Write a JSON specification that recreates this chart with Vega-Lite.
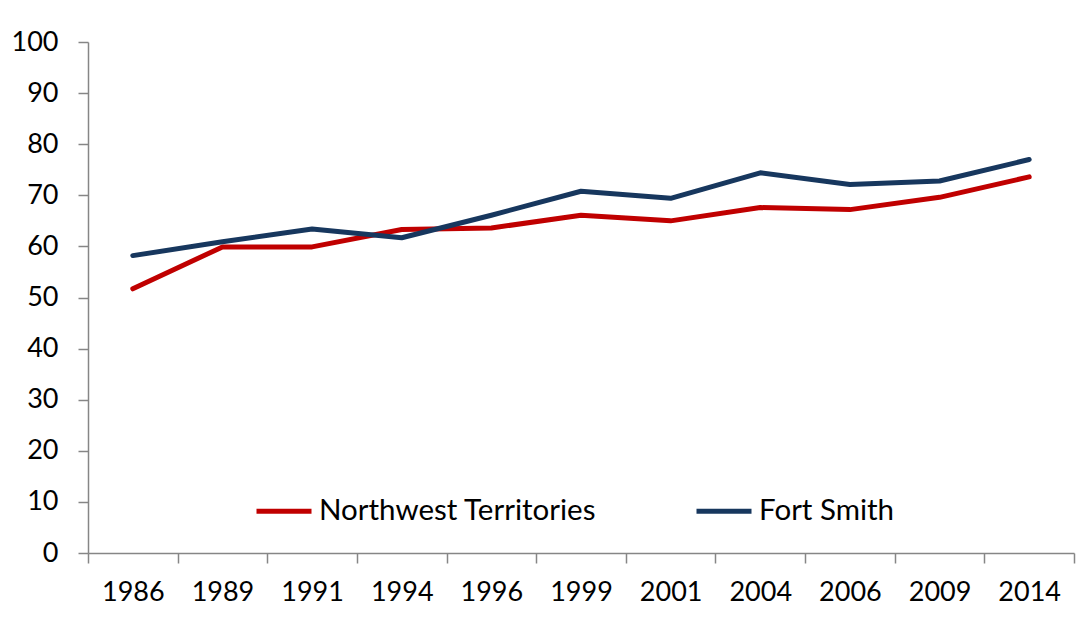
{
  "$schema": "https://vega.github.io/schema/vega-lite/v6.json",
  "width": 986,
  "height": 511,
  "autosize": "none",
  "padding": {"left": 88, "top": 42, "right": 14, "bottom": 75},
  "background": "white",
  "config": {
    "font": "Lato",
    "view": {"stroke": null},
    "axis": {"grid": false, "domainColor": "#868686", "tickColor": "#868686", "domainWidth": 1.5, "tickWidth": 1.5, "tickSize": 10, "labelColor": "#000000", "labelFontSize": 27, "labelFont": "Lato", "titleFontSize": 0}
  },
  "data": {
    "values": [
      {"year": "1986", "series": "Northwest Territories", "value": 51.7},
      {"year": "1989", "series": "Northwest Territories", "value": 59.9},
      {"year": "1991", "series": "Northwest Territories", "value": 59.9},
      {"year": "1994", "series": "Northwest Territories", "value": 63.3},
      {"year": "1996", "series": "Northwest Territories", "value": 63.6},
      {"year": "1999", "series": "Northwest Territories", "value": 66.1},
      {"year": "2001", "series": "Northwest Territories", "value": 65.0},
      {"year": "2004", "series": "Northwest Territories", "value": 67.6},
      {"year": "2006", "series": "Northwest Territories", "value": 67.2},
      {"year": "2009", "series": "Northwest Territories", "value": 69.6},
      {"year": "2014", "series": "Northwest Territories", "value": 73.6},
      {"year": "1986", "series": "Fort Smith", "value": 58.2},
      {"year": "1989", "series": "Fort Smith", "value": 60.9},
      {"year": "1991", "series": "Fort Smith", "value": 63.4},
      {"year": "1994", "series": "Fort Smith", "value": 61.7},
      {"year": "1996", "series": "Fort Smith", "value": 66.1},
      {"year": "1999", "series": "Fort Smith", "value": 70.8},
      {"year": "2001", "series": "Fort Smith", "value": 69.4},
      {"year": "2004", "series": "Fort Smith", "value": 74.4},
      {"year": "2006", "series": "Fort Smith", "value": 72.1},
      {"year": "2009", "series": "Fort Smith", "value": 72.8},
      {"year": "2014", "series": "Fort Smith", "value": 77.0}
    ]
  },
  "mark": {"type": "line", "strokeWidth": 5, "strokeCap": "round", "strokeJoin": "round"},
  "encoding": {
    "x": {
      "field": "year", "type": "ordinal", "bandPosition": 0.5,
      "scale": {"type": "band", "paddingInner": 0, "paddingOuter": 0},
      "axis": {"title": null, "labelAngle": 0, "tickBand": "extent", "labelPadding": 16}
    },
    "y": {
      "field": "value", "type": "quantitative",
      "scale": {"domain": [0, 100], "nice": false},
      "axis": {"title": null, "values": [0, 10, 20, 30, 40, 50, 60, 70, 80, 90, 100], "labelPadding": 20}
    },
    "color": {
      "field": "series", "type": "nominal",
      "scale": {"domain": ["Northwest Territories", "Fort Smith"], "range": ["#C00000", "#17375E"]},
      "legend": {
        "title": null, "orient": "none", "direction": "horizontal",
        "legendX": 166, "legendY": 439,
        "symbolType": "stroke", "symbolSize": 3025, "symbolStrokeWidth": 5,
        "labelFontSize": 29.5, "labelFont": "Lato", "labelColor": "#000000", "labelOffset": 5,
        "columnPadding": 89, "labelLimit": 400
      }
    }
  }
}
